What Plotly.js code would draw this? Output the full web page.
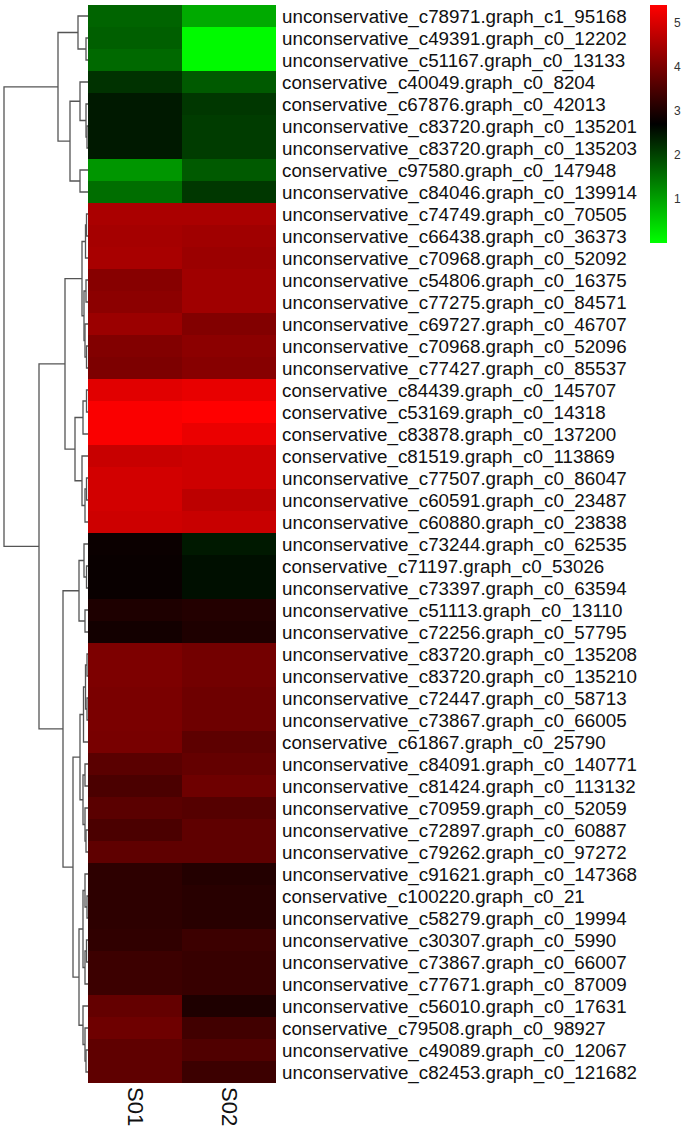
<!DOCTYPE html>
<html><head><meta charset="utf-8">
<script src="https://cdn.plot.ly/plotly-3.0.1.min.js"></script>
<style>html,body{margin:0;padding:0;background:#fff}</style>
</head><body><div id="chart" style="width:685px;height:1135px"></div>
<script>
const samples = ['S01', 'S02'];
const genes = [
  'unconservative_c78971.graph_c1_95168','unconservative_c49391.graph_c0_12202','unconservative_c51167.graph_c0_13133',
  'conservative_c40049.graph_c0_8204','conservative_c67876.graph_c0_42013','unconservative_c83720.graph_c0_135201',
  'unconservative_c83720.graph_c0_135203','conservative_c97580.graph_c0_147948','unconservative_c84046.graph_c0_139914',
  'unconservative_c74749.graph_c0_70505','unconservative_c66438.graph_c0_36373','unconservative_c70968.graph_c0_52092',
  'unconservative_c54806.graph_c0_16375','unconservative_c77275.graph_c0_84571','unconservative_c69727.graph_c0_46707',
  'unconservative_c70968.graph_c0_52096','unconservative_c77427.graph_c0_85537','conservative_c84439.graph_c0_145707',
  'conservative_c53169.graph_c0_14318','conservative_c83878.graph_c0_137200','conservative_c81519.graph_c0_113869',
  'unconservative_c77507.graph_c0_86047','unconservative_c60591.graph_c0_23487','unconservative_c60880.graph_c0_23838',
  'unconservative_c73244.graph_c0_62535','conservative_c71197.graph_c0_53026','unconservative_c73397.graph_c0_63594',
  'unconservative_c51113.graph_c0_13110','unconservative_c72256.graph_c0_57795','unconservative_c83720.graph_c0_135208',
  'unconservative_c83720.graph_c0_135210','unconservative_c72447.graph_c0_58713','unconservative_c73867.graph_c0_66005',
  'conservative_c61867.graph_c0_25790','unconservative_c84091.graph_c0_140771','unconservative_c81424.graph_c0_113132',
  'unconservative_c70959.graph_c0_52059','unconservative_c72897.graph_c0_60887','unconservative_c79262.graph_c0_97272',
  'unconservative_c91621.graph_c0_147368','conservative_c100220.graph_c0_21','unconservative_c58279.graph_c0_19994',
  'unconservative_c30307.graph_c0_5990','unconservative_c73867.graph_c0_66007','unconservative_c77671.graph_c0_87009',
  'unconservative_c56010.graph_c0_17631','conservative_c79508.graph_c0_98927','unconservative_c49089.graph_c0_12067',
  'unconservative_c82453.graph_c0_121682'
];
const s01 = [1.64,1.69,1.59,2.17,2.44,2.44,2.44,1.11,1.54,
  4.50,4.45,4.48,4.13,4.18,4.34,4.08,4.02,
  5.08,5.35,5.35,4.82,4.92,4.92,4.87,
  2.82,2.80,2.80,3.02,2.90,
  4.02,4.02,3.99,3.99,3.97,
  3.65,3.49,3.65,3.49,3.71,
  3.18,3.18,3.18,3.21,3.34,3.34,
  3.76,3.86,3.71,3.71];
const s02 = [0.90,0.05,0.05,1.75,2.12,2.06,2.06,1.75,2.12,
  4.50,4.39,4.34,4.39,4.39,4.08,4.18,4.13,
  5.16,5.40,5.19,4.87,4.87,4.69,4.82,
  2.44,2.54,2.54,3.07,3.02,
  3.92,3.92,3.86,3.86,3.68,
  3.76,3.86,3.60,3.71,3.71,
  3.07,3.12,3.12,3.34,3.28,3.28,
  3.02,3.39,3.55,3.34];
// hclust-style merges: negative = leaf (1-based row), positive = earlier merge
const mergeLeft   = [-2,-1,-6,-5,-4,-8,5,2,-10,-12,-13,-16,-15,11,10,-18,16,-22,18,-21,17,15,-26,-25,-28,24,-30,-32,27,29,-35,-38,-37,31,30,-41,-40,-43,38,37,-48,-47,-46,40,35,26,22,8];
const mergeRight  = [-3,1,-7,3,4,-9,6,7,-11,9,-14,-17,12,13,14,-19,-20,-23,-24,19,20,21,-27,23,-29,25,-31,-33,28,-34,-36,-39,32,33,34,-42,36,-44,-45,39,-49,41,42,43,44,45,46,47];
const mergeHeight = [2,10,1,2,8,8,18,30,1.5,2.5,2,1.5,3,4,6,1.5,5,1.5,3,6,13,23,1.5,4,3,9,1,1,2.5,4.5,3,2,3,5,8,1,3,1.5,3,5,2,3,5,9,15,25,49,84];
const colorTicks = [1,2,3,4,5];

const z = genes.map((g, i) => [s01[i], s02[i]]);
const rowIdx = genes.map((g, i) => i);

// dendrogram geometry from merges
const nodeY = [], nodeH = [];
function childPos(c) {
  if (c < 0) return [-c - 1, 0];
  return [nodeY[c - 1], nodeH[c - 1]];
}
const dx = [], dy = [];
for (let k = 0; k < mergeLeft.length; k++) {
  const [ya, ha] = childPos(mergeLeft[k]);
  const [yb, hb] = childPos(mergeRight[k]);
  const h = mergeHeight[k];
  nodeY.push((ya + yb) / 2); nodeH.push(h);
  dx.push(ha, h, h, hb, null);
  dy.push(ya, ya, yb, yb, null);
}

const W = 685, H = 1135;
const hmL = 88 / W, hmR = 276 / W;
const yBot = (H - 1083) / H, yTop = (H - 5) / H;

const traces = [
  {
    type: 'heatmap', x: [0, 1], y: rowIdx, z: z,
    zmin: 0, zmax: 5.4,
    colorscale: [[0, '#00FF00'], [0.5, '#000000'], [1, '#FF0000']],
    xaxis: 'x', yaxis: 'y', hoverinfo: 'skip',
    colorbar: {
      x: 650 / W, xanchor: 'left', y: yTop, yanchor: 'top',
      thickness: 17, thicknessmode: 'pixels', len: 238, lenmode: 'pixels',
      xpad: 0, ypad: 0,
      tickvals: colorTicks, ticks: 'outside', ticklen: 5, tickcolor: 'rgba(0,0,0,0)', outlinewidth: 0,
      tickfont: {family: 'Liberation Sans, Arial, sans-serif', size: 12, color: '#333'}
    }
  },
  {
    type: 'scatter', mode: 'lines', x: dx, y: dy, xaxis: 'x2', yaxis: 'y',
    line: {color: '#555', width: 1.3}, hoverinfo: 'skip', showlegend: false
  }
];

const layout = {
  width: W, height: H, margin: {l: 0, r: 0, t: 0, b: 0},
  paper_bgcolor: '#fff', plot_bgcolor: '#fff', showlegend: false,
  font: {family: 'Liberation Sans, Arial, sans-serif', color: '#111'},
  xaxis: {
    domain: [hmL, hmR], range: [-0.5, 1.5], anchor: 'y',
    tickvals: [0, 1], ticktext: samples, tickangle: 90, ticks: '', ticklabelstandoff: 3,
    tickfont: {size: 22, color: '#111'}, showgrid: false, zeroline: false, showline: false
  },
  xaxis2: {
    domain: [0, hmL], range: [88, 0], anchor: 'y',
    visible: false, showgrid: false, zeroline: false
  },
  yaxis: {
    domain: [yBot, yTop], range: [48.5, -0.5], side: 'right', anchor: 'x',
    tickvals: rowIdx, ticktext: genes, ticks: '', ticklabelstandoff: 5,
    tickfont: {size: 18.8, color: '#111'}, showgrid: false, zeroline: false, showline: false
  }
};

Plotly.newPlot('chart', traces, layout, {displayModeBar: false, staticPlot: true});
</script>
</body></html>
